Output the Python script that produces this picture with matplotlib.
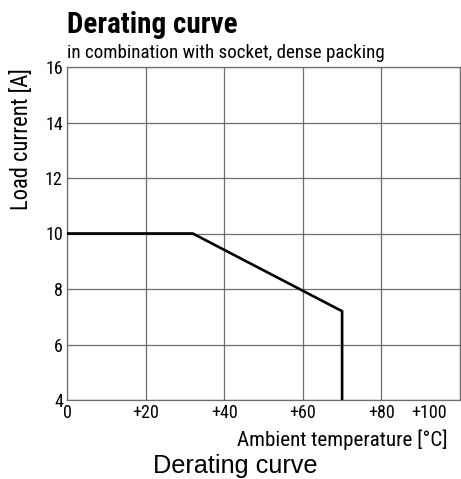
import matplotlib

matplotlib.use("Agg")
import matplotlib.pyplot as plt
from matplotlib import font_manager

temperature = [0, 32, 70, 70]
load_current = [10, 10, 7.2, 4]
x_ticks = [0, 20, 40, 60, 80, 100]
x_tick_labels = ["0", "+20", "+40", "+60", "+80", ""]
last_x_label = "+100"
y_ticks = [4, 6, 8, 10, 12, 14, 16]

names = {f.name for f in font_manager.fontManager.ttflist}
NARROW = [n for n in ("Roboto Condensed", "Archivo Narrow", "Barlow Condensed") if n in names] + ["DejaVu Sans"]
GRID = "#6e6e6e"
TICK_SIZE = 13

W, H = 461, 479
fig = plt.figure(figsize=(W / 100, H / 100), dpi=100)
ax = fig.add_axes([67 / W, 1 - 400 / H, (460 - 67) / W, (400 - 67) / H])

ax.plot(temperature, load_current, color="black", lw=1.9, solid_joinstyle="miter", zorder=3)
ax.set_xlim(0, 100)
ax.set_ylim(4, 16)
ax.set_xticks(x_ticks, x_tick_labels)
ax.set_yticks(y_ticks)
ax.grid(True, color=GRID, lw=0.9)
ax.tick_params(length=0, pad=3, labelsize=TICK_SIZE)
for lab in ax.get_xticklabels() + ax.get_yticklabels():
    lab.set_family(NARROW)
for s in ax.spines.values():
    s.set_color(GRID)
    s.set_linewidth(0.9)

renderer = fig.canvas.get_renderer()
# the last x label sits left of its gridline, flush with the x-axis title
top_px = ax.get_xticklabels()[1].get_window_extent(renderer).y1
ax.text(447 / W, top_px / fig.bbox.height, last_x_label, transform=fig.transFigure, family=NARROW,
        fontsize=TICK_SIZE, ha="right", va="top")


def fitted(t, target, vertical=False):
    bb = t.get_window_extent(renderer)
    size = bb.height if vertical else bb.width
    t.set_fontsize(t.get_fontsize() * target / size)
    return t


fitted(fig.text(67 / W, 1 - 33 / H, "Derating curve", family=NARROW, fontsize=19,
                fontweight="bold", ha="left", va="baseline"), 170)
fitted(fig.text(67 / W, 1 - 58 / H, "in combination with socket, dense packing", family=NARROW,
                fontsize=13.5, ha="left", va="baseline"), 318)
fitted(fig.text(22 / W, 1 - 68 / H, "Load current [A]", family=NARROW, fontsize=15,
                rotation=90, ha="center", va="top"), 142, vertical=True)
fitted(fig.text(448 / W, 1 - 440 / H, "Ambient temperature [°C]", family=NARROW, fontsize=15,
                ha="right", va="center"), 211)
fitted(fig.text(235 / W, 1 - 466 / H, "Derating curve", family=["Liberation Sans", "DejaVu Sans"],
                fontsize=14, ha="center", va="center"), 166)

fig.savefig("out.png", dpi=100)
